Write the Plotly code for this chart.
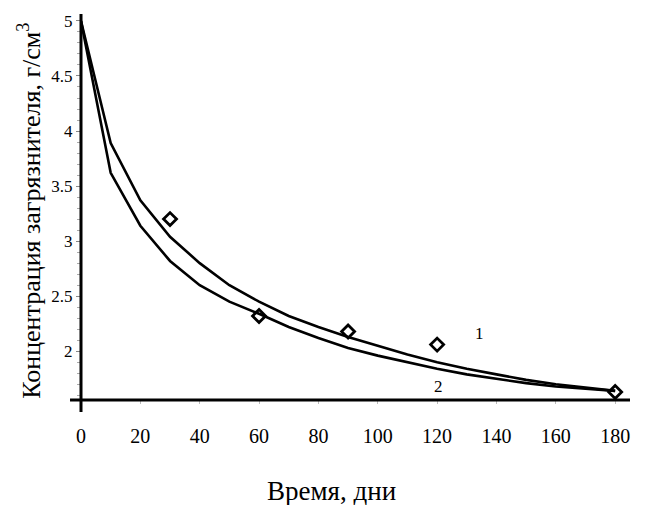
import plotly.graph_objects as go

# Curve data (time in days, concentration)
t_curve = [0, 10, 20, 30, 40, 50, 60, 70, 80, 90, 100, 110, 120, 130, 140, 150, 160, 170, 180]
c_curve1 = [5.0, 3.89, 3.37, 3.04, 2.80, 2.60, 2.45, 2.32, 2.22, 2.13, 2.05, 1.97, 1.90, 1.84, 1.79, 1.74, 1.70, 1.67, 1.64]
c_curve2 = [5.0, 3.62, 3.14, 2.82, 2.60, 2.45, 2.34, 2.22, 2.12, 2.03, 1.96, 1.90, 1.84, 1.79, 1.75, 1.71, 1.68, 1.66, 1.64]

# Measured points
t_obs = [30, 60, 90, 120, 180]
c_obs = [3.20, 2.32, 2.18, 2.06, 1.63]

x_ticks = [0, 20, 40, 60, 80, 100, 120, 140, 160, 180]
y_ticks = [2, 2.5, 3, 3.5, 4, 4.5, 5]
y_tick_text = ["2", "2.5", "3", "3.5", "4", "4.5", "5"]

FONT = "Liberation Serif, Times New Roman, serif"

fig = go.Figure()
fig.add_trace(go.Scatter(x=t_curve, y=c_curve1, mode="lines",
                         line=dict(color="black", width=2.6), showlegend=False))
fig.add_trace(go.Scatter(x=t_curve, y=c_curve2, mode="lines",
                         line=dict(color="black", width=2.6), showlegend=False))
fig.add_trace(go.Scatter(x=t_obs, y=c_obs, mode="markers",
                         marker=dict(symbol="diamond-open", size=10, color="black",
                                     line=dict(color="black", width=2.8)),
                         showlegend=False, cliponaxis=False))

fig.add_annotation(x=134.4, y=2.165, text="1", showarrow=False,
                   font=dict(family=FONT, size=17, color="black"))
fig.add_annotation(x=120.3, y=1.676, text="2", showarrow=False,
                   font=dict(family=FONT, size=17, color="black"))

# axis titles
fig.add_annotation(xref="paper", yref="paper", x=0.457, y=-0.237, yanchor="middle",
                   text="Время, дни", showarrow=False,
                   font=dict(family=FONT, size=27, color="black"))
fig.add_annotation(xref="paper", yref="paper", x=-0.093, y=0.49, xanchor="center",
                   yanchor="middle", textangle=-90,
                   text="Концентрация загрязнителя, г/см<sup>3</sup>", showarrow=False,
                   font=dict(family=FONT, size=26, color="black"))

# axis cross lines
fig.add_shape(type="line", xref="paper", yref="paper", x0=-0.02, x1=1, y0=0, y1=0,
              line=dict(color="black", width=3))
fig.add_shape(type="line", xref="paper", yref="paper", x0=0, x1=0, y0=-0.031, y1=1,
              line=dict(color="black", width=3))

fig.update_layout(
    width=646, height=505,
    margin=dict(l=73, r=24, t=4, b=113),
    plot_bgcolor="white", paper_bgcolor="white",
    font=dict(family=FONT, color="black"),
    xaxis=dict(range=[0, 185], tickvals=x_ticks, ticks="outside", ticklen=3,
               tickcolor="#bbbbbb", showgrid=False, zeroline=False, showline=False,
               tickfont=dict(family=FONT, size=20, color="black"),
               ticklabelstandoff=15),
    yaxis=dict(range=[1.557, 5.063], tickvals=y_ticks, ticktext=y_tick_text,
               ticks="outside", ticklen=4, tickcolor="#888888",
               minor=dict(dtick=0.1, ticks="outside", ticklen=3, tickcolor="#aaaaaa"),
               showgrid=False, zeroline=False, showline=False,
               tickfont=dict(family=FONT, size=17, color="black")),
)

fig.write_html("out.html")
